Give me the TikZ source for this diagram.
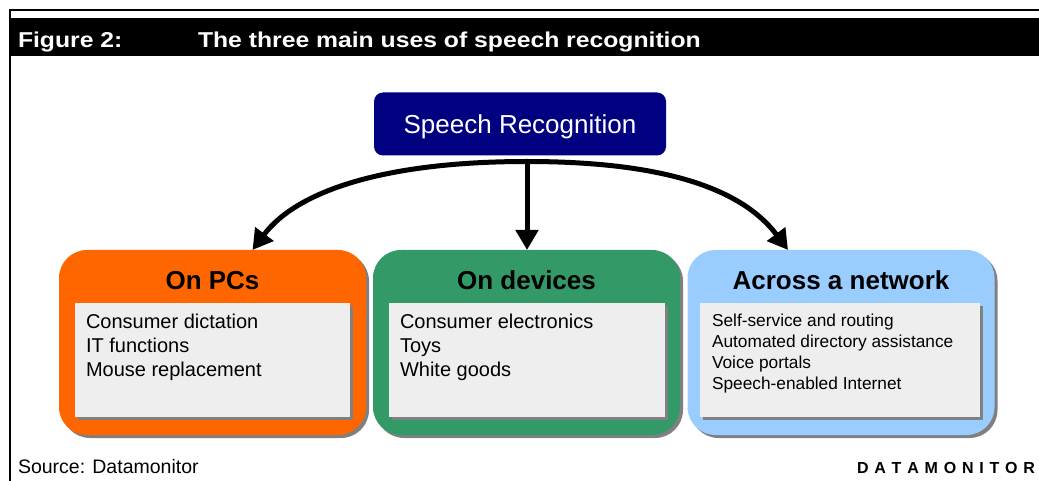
\documentclass[tikz,border=0pt]{standalone}
\usepackage{fontspec}
\usepackage{graphicx}
\setmainfont{Liberation Sans}
\usetikzlibrary{arrows.meta,calc,shadows}
\definecolor{navy}{HTML}{000080}
\definecolor{orng}{HTML}{FF6600}
\definecolor{grn}{HTML}{339966}
\definecolor{lblue}{HTML}{99CCFF}
\definecolor{innergray}{HTML}{EEEEEE}
\definecolor{shdcol}{HTML}{808080}
\newcommand{\lsp}{\kern5.8pt}
\begin{document}
\begin{tikzpicture}[x=1pt,y=-1pt,
  every node/.style={inner sep=0pt, outer sep=0pt},
  shd/.style={drop shadow={shadow xshift=3pt,shadow yshift=-3pt,fill=shdcol,opacity=1}},
  outerbox/.style={shd, rounded corners=28pt, minimum width=307pt, minimum height=185pt},
  innerbox/.style={shd, fill=innergray, minimum height=114pt},
  boxtitle/.style={anchor=base, font=\fontsize{26}{30}\selectfont\bfseries},
  item/.style={anchor=base west, font=\fontsize{20}{24}\selectfont},
  smallitem/.style={anchor=base west, font=\fontsize{17.3}{21}\selectfont},
  conn/.style={line width=5pt, -{Triangle[width=22pt,length=20pt]}},
  headtext/.style={anchor=base west, text=white}
]
\useasboundingbox (0,0) rectangle (1039,481);
\fill[white] (0,0) rectangle (1039,481);
% frame and header band
\draw[line width=2pt] (1039,10) -- (10,10) -- (10,481);
\node[fill=black, anchor=north west, minimum width=1028pt, minimum height=38pt] (band) at (11,18) {};
\node[headtext] (fig) at (18,48) {\scalebox{1.15}[1]{\fontsize{21.5}{24}\selectfont\bfseries Figure 2:}};
\node[headtext] (title) at (198,48) {\scalebox{1.15}[1]{\fontsize{21.5}{24}\selectfont\bfseries The three main uses of speech recognition}};

% top node
\node[fill=navy, rounded corners=9pt, minimum width=292pt, minimum height=63pt, text depth=0pt,
      text=white, font=\fontsize{26}{30}\selectfont] (sr) at (520,124) {Speech Recognition};

% three boxes
\node[outerbox, fill=orng] (pcs) at (212.5,342.5) {};
\node[outerbox, fill=grn] (dev) at (526.5,342.5) {};
\node[outerbox, fill=lblue] (net) at (841,342.5) {};

\node[innerbox, minimum width=275pt] (pcsin) at (212.5,360) {};
\node[innerbox, minimum width=276pt] (devin) at (527,360) {};
\node[innerbox, minimum width=280pt] (netin) at (840,360) {};

\node[boxtitle] (pcst) at ($(pcs.north)+(0,39)$) {On PCs};
\node[boxtitle] (devt) at ($(dev.north)+(0,39)$) {On devices};
\node[boxtitle] (nett) at ($(net.north)+(0,39)$) {Across a network};

\node[item] (p1) at (86,328) {Consumer dictation};
\node[item] (p2) at (86,352) {IT functions};
\node[item] (p3) at (86,376) {Mouse replacement};

\node[item] (d1) at (400,328) {Consumer electronics};
\node[item] (d2) at (400,352) {Toys};
\node[item] (d3) at (400,376) {White goods};

\node[smallitem] (n1) at (712,326) {Self-service and routing};
\node[smallitem] (n2) at (712,347) {Automated directory assistance};
\node[smallitem] (n3) at (712,368) {Voice portals};
\node[smallitem] (n4) at (712,389) {Speech-enabled Internet};

% connectors
\coordinate (hub) at ($(sr.south)+(7,6)$);
\coordinate (ltip) at ($(pcs.north)+(40,0)$);
\coordinate (rtip) at ($(net.north)+(-53,0)$);
\draw[conn] (hub) .. controls +(-140,0) and +(45,-60) .. (ltip);
\draw[conn] (hub) .. controls +(140,0) and +(-45,-60) .. (rtip);
\draw[conn] (hub) -- (hub |- dev.north);

% footer
\node[anchor=base west, font=\fontsize{19.5}{22}\selectfont] (src) at (18,473) {Source: Datamonitor};
\node[anchor=base west, font=\fontsize{16}{18}\selectfont\bfseries] (dm) at (857,473)
  {D\lsp A\lsp T\lsp A\lsp M\lsp O\lsp N\lsp I\lsp T\lsp O\lsp R};
\end{tikzpicture}
\end{document}
